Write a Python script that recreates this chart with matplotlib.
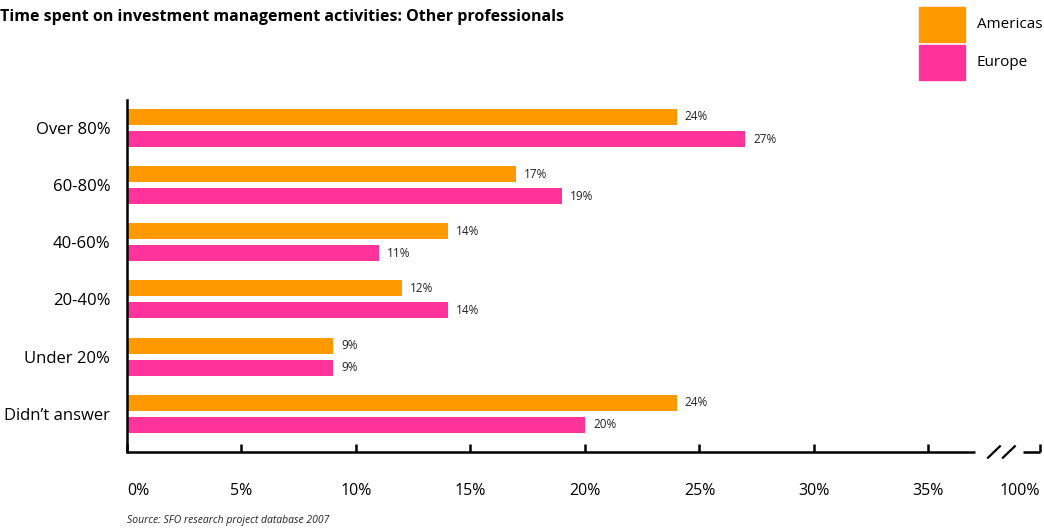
import numpy as np
import matplotlib.pyplot as plt

plt.rcParams['font.family'] = ['Open Sans', 'DejaVu Sans']

# data
categories = ["Over 80%", "60-80%", "40-60%", "20-40%", "Under 20%", "Didn\u2019t answer"]
americas = [24, 17, 14, 12, 9, 24]
europe = [27, 19, 11, 14, 9, 20]
tick_vals = [0, 5, 10, 15, 20, 25, 30, 35]
tick_labels = ["0%", "5%", "10%", "15%", "20%", "25%", "30%", "35%"]

orange = "#FF9900"
pink = "#FF3399"

fig = plt.figure(figsize=(10.44, 5.29), dpi=100)
W, H = 1044, 529
ax = fig.add_axes([127 / W, (H - 452) / H, (1040 - 127) / W, (452 - 100) / H])

y = np.arange(len(categories))
off = 0.193
bh = 0.28
ax.barh(y - off, americas, height=bh, color=orange)
ax.barh(y + off, europe, height=bh, color=pink)

for yi, a, e in zip(y, americas, europe):
    ax.text(a + 0.35, yi - off, f"{a}%", va="center", ha="left", fontsize=8.5, color="#222222")
    ax.text(e + 0.35, yi + off, f"{e}%", va="center", ha="left", fontsize=8.5, color="#222222")

xmax = 39.87
ybot, ytop = 5.67, -0.49
ax.set_xlim(0, xmax)
ax.set_ylim(ybot, ytop)

ax.set_yticks(y)
ax.set_yticklabels(categories, fontsize=12)
ax.tick_params(axis="y", length=0, pad=12)

ax.set_xticks(tick_vals + [xmax])
ax.set_xticklabels(tick_labels + ["100%"], fontsize=11.5)
ax.tick_params(axis="x", direction="in", length=6, width=1.8, pad=22)
labels = ax.get_xticklabels()
labels[0].set_ha("left")
labels[-1].set_ha("right")

for s in ["top", "right", "bottom"]:
    ax.spines[s].set_visible(False)
ax.spines["left"].set_linewidth(1.8)

# broken x axis
lw = 1.8
ax.plot([0, 37.03], [ybot, ybot], color="black", lw=lw, clip_on=False, solid_capstyle="butt")
ax.plot([39.13, xmax], [ybot, ybot], color="black", lw=lw, clip_on=False, solid_capstyle="butt")
for x0 in [37.6, 38.25]:
    ax.plot([x0, x0 + 0.52], [ybot + 0.1, ybot - 0.1], color="black", lw=1.6, clip_on=False)

# title
fig.text(0, 1 - 17 / H, "Time spent on investment management activities: Other professionals",
         fontsize=11.5, fontweight="bold", va="center", ha="left")

# legend
fig.patches.append(plt.Rectangle((919 / W, 1 - 42 / H), 46 / W, 35 / H, color=orange,
                                 transform=fig.transFigure))
fig.patches.append(plt.Rectangle((919 / W, 1 - 80 / H), 46 / W, 35 / H, color=pink,
                                 transform=fig.transFigure))
fig.text(977 / W, 1 - 24 / H, "Americas", fontsize=11, va="center", ha="left")
fig.text(977 / W, 1 - 62 / H, "Europe", fontsize=11, va="center", ha="left")

# source
fig.text(127 / W, 1 - 521 / H, "Source: SFO research project database 2007",
         fontsize=7.5, style="italic", va="center", ha="left", color="#222222")

fig.savefig("out.png", dpi=100)
